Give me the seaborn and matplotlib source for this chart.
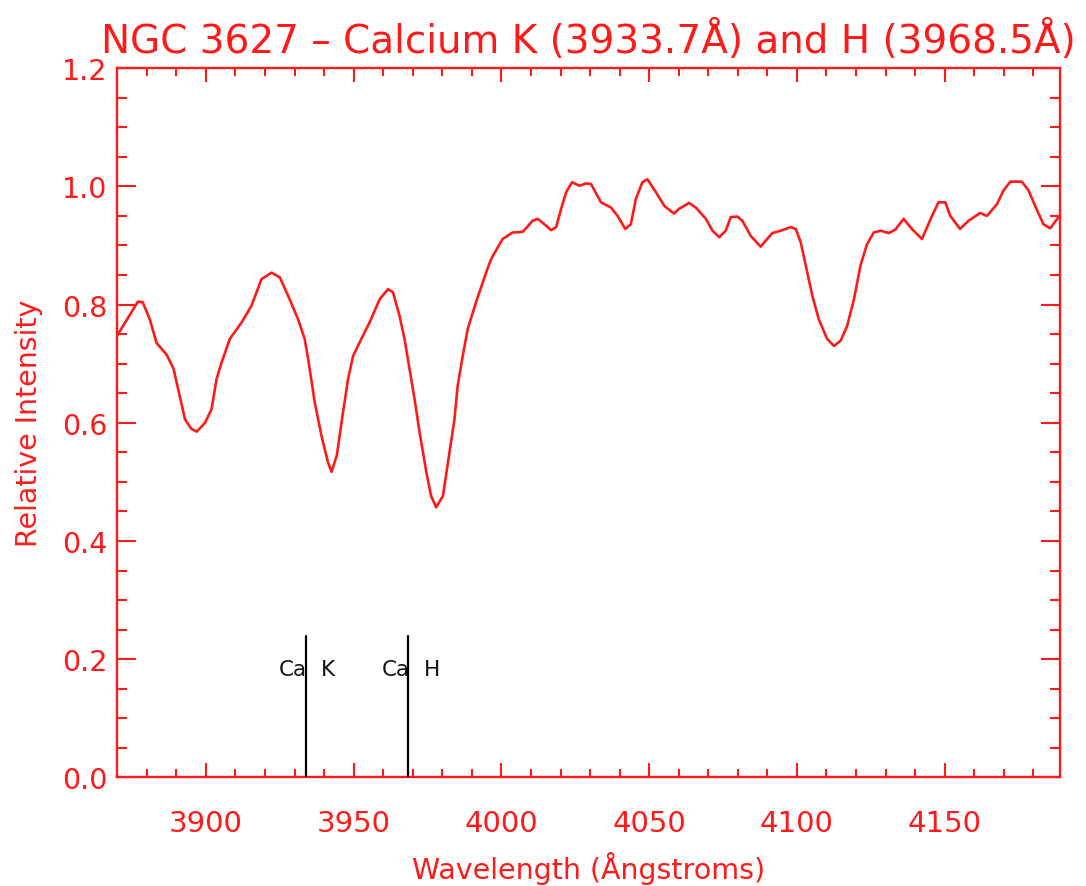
import matplotlib
matplotlib.use("Agg")
import matplotlib.pyplot as plt
import seaborn as sns
import numpy as np
import pandas as pd
from matplotlib.ticker import MultipleLocator

# ---- data ----
wavelength = [
    3870.0, 3877.0, 3878.6, 3881.0, 3883.3, 3886.7, 3889.0, 3890.6, 3892.9, 3895.0,
    3896.9, 3899.7, 3901.9, 3903.6, 3905.3, 3908.1, 3912.1, 3915.4, 3918.8, 3922.2,
    3925.0, 3927.8, 3931.2, 3933.4, 3934.6, 3936.8, 3939.1, 3941.3, 3942.5, 3944.3,
    3946.4, 3948.1, 3949.8, 3952.0, 3955.4, 3958.8, 3961.6, 3963.3, 3965.5, 3967.2,
    3968.9, 3970.6, 3972.3, 3974.6, 3976.2, 3977.9, 3980.2, 3981.9, 3984.1, 3985.2,
    3986.9, 3988.6, 3991.4, 3994.8, 3996.5, 4000.4, 4003.8, 4007.2, 4010.6, 4012.3,
    4014.5, 4016.8, 4018.5, 4020.2, 4021.9, 4023.9, 4026.4, 4028.6, 4030.3, 4033.7,
    4037.1, 4039.3, 4041.9, 4043.8, 4045.5, 4047.7, 4049.4, 4052.3, 4055.1, 4058.4,
    4060.1, 4063.5, 4065.8, 4069.2, 4071.4, 4073.7, 4075.9, 4077.6, 4079.8, 4081.5,
    4084.4, 4087.7, 4089.4, 4091.7, 4094.5, 4097.9, 4099.6, 4101.3, 4103.5, 4105.2,
    4107.4, 4110.2, 4112.5, 4114.8, 4117.0, 4119.3, 4121.5, 4123.7, 4126.0, 4128.3,
    4131.1, 4133.3, 4136.1, 4138.9, 4142.3, 4145.7, 4147.9, 4150.2, 4151.9, 4155.2,
    4158.1, 4162.0, 4164.3, 4167.7, 4169.9, 4172.2, 4176.1, 4178.4, 4180.6, 4183.4,
    4185.7, 4188.5,
]
intensity = [
    0.748, 0.805, 0.804, 0.775, 0.735, 0.715, 0.692, 0.657, 0.606, 0.590,
    0.585, 0.600, 0.623, 0.674, 0.702, 0.742, 0.770, 0.798, 0.843, 0.854,
    0.846, 0.815, 0.775, 0.742, 0.708, 0.635, 0.578, 0.533, 0.517, 0.545,
    0.618, 0.674, 0.713, 0.736, 0.770, 0.809, 0.826, 0.821, 0.781, 0.742,
    0.691, 0.640, 0.584, 0.516, 0.476, 0.457, 0.476, 0.533, 0.606, 0.663,
    0.713, 0.759, 0.804, 0.854, 0.877, 0.911, 0.922, 0.923, 0.942, 0.945,
    0.936, 0.926, 0.931, 0.962, 0.990, 1.007, 1.001, 1.005, 1.004, 0.973,
    0.964, 0.950, 0.928, 0.936, 0.979, 1.007, 1.012, 0.990, 0.967, 0.954,
    0.962, 0.972, 0.964, 0.945, 0.925, 0.914, 0.925, 0.948, 0.949, 0.942,
    0.916, 0.898, 0.908, 0.921, 0.925, 0.931, 0.928, 0.905, 0.854, 0.815,
    0.775, 0.742, 0.730, 0.739, 0.764, 0.809, 0.866, 0.902, 0.922, 0.925,
    0.921, 0.927, 0.945, 0.928, 0.911, 0.950, 0.973, 0.973, 0.950, 0.928,
    0.942, 0.955, 0.950, 0.970, 0.993, 1.008, 1.008, 0.993, 0.967, 0.936,
    0.929, 0.948,
]
line_names = ["Ca", "Ca"]
line_ions = ["K", "H"]
line_wavelengths = [3933.7, 3968.5]
line_top = 0.24

title = "NGC 3627 \u2013 Calcium K (3933.7\u00c5) and H (3968.5\u00c5)"
xlabel = "Wavelength (\u00c5ngstroms)"
ylabel = "Relative Intensity"

RED = "#ff1a1a"

sns.set_theme(style="white")
plt.rcParams["font.family"] = ["DejaVu Sans"]

fig = plt.figure(figsize=(10.86, 8.87), dpi=100)
ax = fig.add_axes([0.108, 0.1225, 0.868, 0.7995])

df = pd.DataFrame({"wavelength": wavelength, "intensity": intensity})
sns.lineplot(data=df, x="wavelength", y="intensity", color=RED, linewidth=1.9,
             ax=ax, sort=False, estimator=None)

for name, ion, wl in zip(line_names, line_ions, line_wavelengths):
    ax.plot([wl, wl], [0, line_top], color="black", linewidth=1.6, zorder=3)
    ax.annotate(name, xy=(wl, 0.183), xytext=(1.0, 0), textcoords="offset points",
                ha="right", va="center", fontsize=15.5, color="#111111")
    ax.annotate(ion, xy=(wl, 0.183), xytext=(11, 0), textcoords="offset points",
                ha="left", va="center", fontsize=15.5, color="#111111")

ax.set_xlim(3870, 4189)
ax.set_ylim(0, 1.2)
ax.xaxis.set_major_locator(MultipleLocator(50))
ax.xaxis.set_minor_locator(MultipleLocator(10))
ax.yaxis.set_major_locator(MultipleLocator(0.2))
ax.yaxis.set_minor_locator(MultipleLocator(0.05))
ax.yaxis.set_major_formatter(matplotlib.ticker.FormatStrFormatter("%.1f"))

for sp in ax.spines.values():
    sp.set_color(RED)
    sp.set_linewidth(1.7)
    sp.set_visible(True)

ax.tick_params(axis="both", which="both", direction="in",
               top=True, right=True, bottom=True, left=True,
               color=RED, labelcolor=RED, width=1.5)
ax.tick_params(axis="x", which="major", length=10, pad=23, labelsize=21)
ax.tick_params(axis="x", which="minor", length=5.5)
ax.tick_params(axis="y", which="major", length=13.5, pad=7, labelsize=20.5)
ax.tick_params(axis="y", which="minor", length=7)

ax.set_xlabel(xlabel, color=RED, fontsize=20.5, labelpad=10)
ax.set_ylabel(ylabel, color=RED, fontsize=20.5, labelpad=14)
ax.set_title(title, color=RED, fontsize=28, pad=12)
ax.grid(False)

fig.savefig("out.png", dpi=100, facecolor="white")
